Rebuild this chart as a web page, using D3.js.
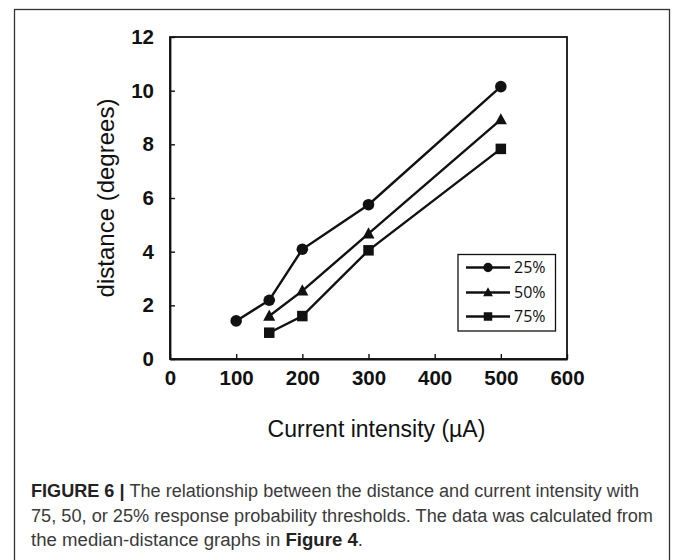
<!DOCTYPE html>
<html>
<head>
<meta charset="utf-8">
<script src="https://cdn.jsdelivr.net/npm/d3@7"></script>
<style>
  html, body { margin: 0; padding: 0; background: #fff; }
  svg { display: block; }
</style>
</head>
<body>
<svg id="chart" width="673" height="560"></svg>
<script>
// ---- data ----
const seriesNames = ["25%", "50%", "75%"];
const markerShapes = ["circle", "triangle", "square"];
const x25 = [100, 150, 200, 300, 500];
const y25 = [1.42, 2.19, 4.09, 5.75, 10.15];
const x50 = [150, 200, 300, 500];
const y50 = [1.6, 2.54, 4.67, 8.92];
const x75 = [150, 200, 300, 500];
const y75 = [0.98, 1.6, 4.05, 7.83];
const xTicks = [0, 100, 200, 300, 400, 500, 600];
const yTicks = [0, 2, 4, 6, 8, 10, 12];
const xTitle = "Current intensity (\u00B5A)";
const yTitle = "distance (degrees)";
const captionLines = [
  [{t: "FIGURE 6 | ", b: true}, {t: "The relationship between the distance and current intensity with", b: false}],
  [{t: "75, 50, or 25% response probability thresholds. The data was calculated from", b: false}],
  [{t: "the median-distance graphs in ", b: false}, {t: "Figure 4", b: true}, {t: ".", b: false}]
];

const series = [
  {name: seriesNames[0], shape: markerShapes[0], pts: x25.map((x, i) => ({x, y: y25[i]}))},
  {name: seriesNames[1], shape: markerShapes[1], pts: x50.map((x, i) => ({x, y: y50[i]}))},
  {name: seriesNames[2], shape: markerShapes[2], pts: x75.map((x, i) => ({x, y: y75[i]}))}
];

// ---- layout ----
const svg = d3.select("#chart");
const L = 170, R = 567, T = 37, B = 359;
const x = d3.scaleLinear().domain([0, 600]).range([L, R]);
const y = d3.scaleLinear().domain([0, 12]).range([B, T]);
const ink = "#111";

// outer figure border
svg.append("rect").attr("x", 14.5).attr("y", 9.5).attr("width", 655).attr("height", 570)
  .attr("fill", "none").attr("stroke", "#333").attr("stroke-width", 1.3);

// plot frame
svg.append("rect").attr("x", L).attr("y", T).attr("width", R - L).attr("height", B - T)
  .attr("fill", "none").attr("stroke", ink).attr("stroke-width", 1.8);

// axes with inward ticks
const xAxis = d3.axisBottom(x).tickValues(xTicks).tickSizeInner(-5).tickSizeOuter(0).tickPadding(11);
const yAxis = d3.axisLeft(y).tickValues(yTicks).tickSizeInner(-5).tickSizeOuter(0).tickPadding(16);

const gx = svg.append("g").attr("transform", `translate(0,${B})`).call(xAxis);
const gy = svg.append("g").attr("transform", `translate(${L},0)`).call(yAxis);
[gx, gy].forEach(g => {
  g.select(".domain").attr("stroke", ink).attr("stroke-width", 1.8);
  g.selectAll(".tick line").attr("stroke", ink).attr("stroke-width", 1.4);
  g.selectAll(".tick text").attr("fill", ink)
    .style("font-family", "'Liberation Sans', Arial, sans-serif")
    .style("font-weight", "bold").style("font-size", "20.5px");
});
gx.selectAll(".tick text").attr("dy", "0.71em");

// axis titles
svg.append("text").attr("x", (L + R) / 2 + 8).attr("y", 437).attr("text-anchor", "middle")
  .style("font-family", "'Liberation Sans', Arial, sans-serif").style("font-size", "23px")
  .attr("fill", ink).text(xTitle);
svg.append("text").attr("transform", `translate(114,${(T + B) / 2}) rotate(-90)`).attr("text-anchor", "middle")
  .style("font-family", "'Liberation Sans', Arial, sans-serif").style("font-size", "24px")
  .attr("fill", ink).text(yTitle);

// marker drawer
function drawMarker(g, shape, cx, cy, s) {
  if (shape === "circle") {
    g.append("circle").attr("cx", cx).attr("cy", cy).attr("r", s * 0.55).attr("fill", ink);
  } else if (shape === "square") {
    g.append("rect").attr("x", cx - s / 2).attr("y", cy - s / 2).attr("width", s).attr("height", s).attr("fill", ink);
  } else {
    const h = s * 1.0, w = s * 1.15;
    g.append("path").attr("d", `M${cx},${cy - h * 0.62}L${cx + w / 2},${cy + h * 0.45}L${cx - w / 2},${cy + h * 0.45}Z`).attr("fill", ink);
  }
}

const line = d3.line().x(d => x(d.x)).y(d => y(d.y));
series.forEach(s => {
  svg.append("path").datum(s.pts).attr("d", line).attr("fill", "none")
    .attr("stroke", ink).attr("stroke-width", 2.4);
  const g = svg.append("g");
  s.pts.forEach(p => drawMarker(g, s.shape, x(p.x), y(p.y), 10.5));
});

// legend
const lg = svg.append("g");
lg.append("rect").attr("x", 458).attr("y", 254.5).attr("width", 97.5).attr("height", 76.5)
  .attr("fill", "#fff").attr("stroke", ink).attr("stroke-width", 1.3);
const rowY = [267.5, 292.5, 316.5];
series.forEach((s, i) => {
  lg.append("line").attr("x1", 466).attr("x2", 510).attr("y1", rowY[i]).attr("y2", rowY[i])
    .attr("stroke", ink).attr("stroke-width", 2.4);
  drawMarker(lg, s.shape, 488, rowY[i], 8.5);
  lg.append("text").attr("x", 514).attr("y", rowY[i]).attr("dy", "0.36em")
    .style("font-family", "'Open Sans', 'Noto Sans', sans-serif").style("font-size", "16px")
    .attr("fill", ink).text(s.name);
});

// caption
const capY = [497, 521.5, 546];
const capW = [608, 622, 332];
captionLines.forEach((ln, i) => {
  const t = svg.append("text").attr("x", 31).attr("y", capY[i])
    .style("font-family", "'Liberation Sans Narrow', 'Liberation Sans', Arial, sans-serif")
    .style("font-size", "18px").attr("fill", "#3a3a3a");
  ln.forEach(seg => {
    t.append("tspan").attr("font-weight", seg.b ? "bold" : "normal")
      .attr("fill", seg.b ? "#222" : "#3a3a3a").text(seg.t);
  });
  t.attr("textLength", capW[i]).attr("lengthAdjust", "spacingAndGlyphs");
});
</script>
</body>
</html>
